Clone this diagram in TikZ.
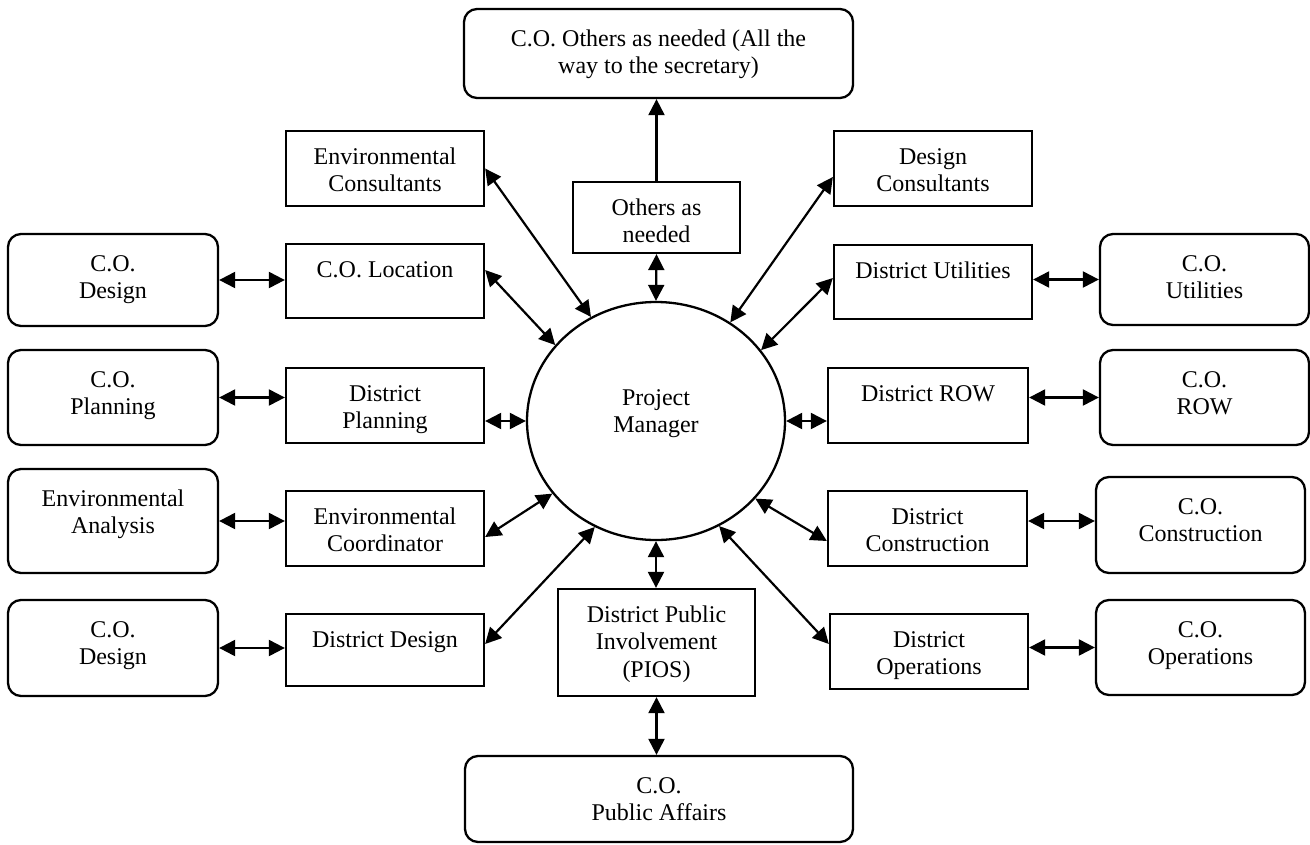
\documentclass[tikz,border=0pt]{standalone}
\usepackage{fontspec}
\setmainfont{Liberation Serif}
\usetikzlibrary{arrows.meta,shapes.geometric}
% box text: width, height, first-baseline offset, text (top aligned)
\newcommand\bt[4]{\parbox[c][#2pt][t]{#1pt}{\centering\rule{0pt}{#3pt}#4\par}}
\begin{document}
\begin{tikzpicture}[x=1pt,y=-1pt,
  font=\fontsize{24}{27.6}\selectfont,
  >={Triangle[length=16pt,width=16pt]},
  rbox/.style={draw, line width=2.3pt, rounded corners=13pt, inner sep=0pt},
  sbox/.style={draw, line width=2.3pt, inner sep=0pt},
  link/.style={line width=2.2pt, <->},
  uplink/.style={line width=2.2pt, ->}]
\fill[white] (0,0) rectangle (1310,844);
\useasboundingbox (0,0) rectangle (1310,844);

% central node
\node[ellipse, draw, line width=2.3pt, minimum width=258pt, minimum height=238pt, inner sep=0pt]
  (pm) at (656,421) {\bt{120}{100}{34}{Project\\Manager}};

% top and bottom
\node[rbox] (top) at (658.5,53.5) {\bt{389}{89}{37}{C.O. Others as needed (All the\\way to the secretary)}};
\node[sbox] (others) at (656.5,217.5) {\bt{167}{71}{33}{Others as\\needed}};
\node[sbox] (pios) at (656.5,642.5) {\bt{197}{107}{33}{District Public\\Involvement\\(PIOS)}};
\node[rbox] (pa) at (659,799) {\bt{388}{86}{37}{C.O.\\Public Affairs}};

% left district column
\node[sbox] (envcons) at (385,168.5) {\bt{198}{75}{33}{Environmental\\Consultants}};
\node[sbox] (coloc) at (385,281) {\bt{198}{74}{33}{C.O. Location}};
\node[sbox] (dplan) at (385,405.5) {\bt{198}{75}{33}{District\\Planning}};
\node[sbox] (ecoord) at (385,528.5) {\bt{198}{75}{33}{Environmental\\Coordinator}};
\node[sbox] (ddes) at (385,650) {\bt{198}{72}{33}{District Design}};

% left central-office column
\node[rbox] (codesa) at (113,280) {\bt{210}{92}{37}{C.O.\\Design}};
\node[rbox] (coplan) at (113,397.5) {\bt{210}{95}{37}{C.O.\\Planning}};
\node[rbox] (envan) at (113,521) {\bt{210}{104}{37}{Environmental\\Analysis}};
\node[rbox] (codesb) at (113,648) {\bt{210}{96}{37}{C.O.\\Design}};

% right district column
\node[sbox] (descons) at (933,168.5) {\bt{198}{75}{33}{Design\\Consultants}};
\node[sbox] (dutil) at (933,282) {\bt{198}{74}{33}{District Utilities}};
\node[sbox] (drow) at (928,405.5) {\bt{200}{75}{33}{District ROW}};
\node[sbox] (dcons) at (927.5,528.5) {\bt{199}{75}{33}{District\\Construction}};
\node[sbox] (dops) at (929,651.5) {\bt{198}{75}{33}{District\\Operations}};

% right central-office column
\node[rbox] (couti) at (1204.5,279.5) {\bt{209}{91}{37}{C.O.\\Utilities}};
\node[rbox] (corow) at (1204.5,397.5) {\bt{209}{95}{37}{C.O.\\ROW}};
\node[rbox] (cocons) at (1200.5,525) {\bt{209}{96}{37}{C.O.\\Construction}};
\node[rbox] (coops) at (1200.5,647.5) {\bt{209}{95}{37}{C.O.\\Operations}};

% connectors to the project manager
\draw[uplink] (others.north) -- (others.north |- top.south);
\draw[link] (others.south) -- (pm.north);
\draw[link] (pm.south) -- (pm.south |- pios.north);
\draw[link] (pios.south) -- (pios.south |- pa.north);
\draw[link] (envcons.east) -- (pm.122.8);
\draw[link] ([yshift=11pt]coloc.east) -- (pm.143.6);
\draw[link] (pm.west) -- (pm.west -| dplan.east);
\draw[link] ([yshift=-8.5pt]ecoord.east) -- (pm.215.9);
\draw[link] ([yshift=6pt]ddes.east) -- (pm.240.7);
\draw[link] ([yshift=-8.5pt]descons.west) -- (pm.53.3);
\draw[link] ([yshift=4pt]dutil.west) -- (pm.34.6);
\draw[link] (pm.east) -- (pm.east -| drow.west);
\draw[link] ([yshift=-12.5pt]dcons.west) -- (pm.322.8);
\draw[link] ([yshift=7.5pt]dops.west) -- (pm.301.9);

% connectors between district and central office
\draw[link] (codesa.east) -- (codesa.east -| coloc.west);
\draw[link] (coplan.east) -- (coplan.east -| dplan.west);
\draw[link] (envan.east) -- (envan.east -| ecoord.west);
\draw[link] (codesb.east) -- (codesb.east -| ddes.west);
\draw[link] (couti.west) -- (couti.west -| dutil.east);
\draw[link] (corow.west) -- (corow.west -| drow.east);
\draw[link] ([yshift=4pt]cocons.west) -- ([yshift=4pt]cocons.west -| dcons.east);
\draw[link] (coops.west) -- (coops.west -| dops.east);
\end{tikzpicture}
\end{document}
